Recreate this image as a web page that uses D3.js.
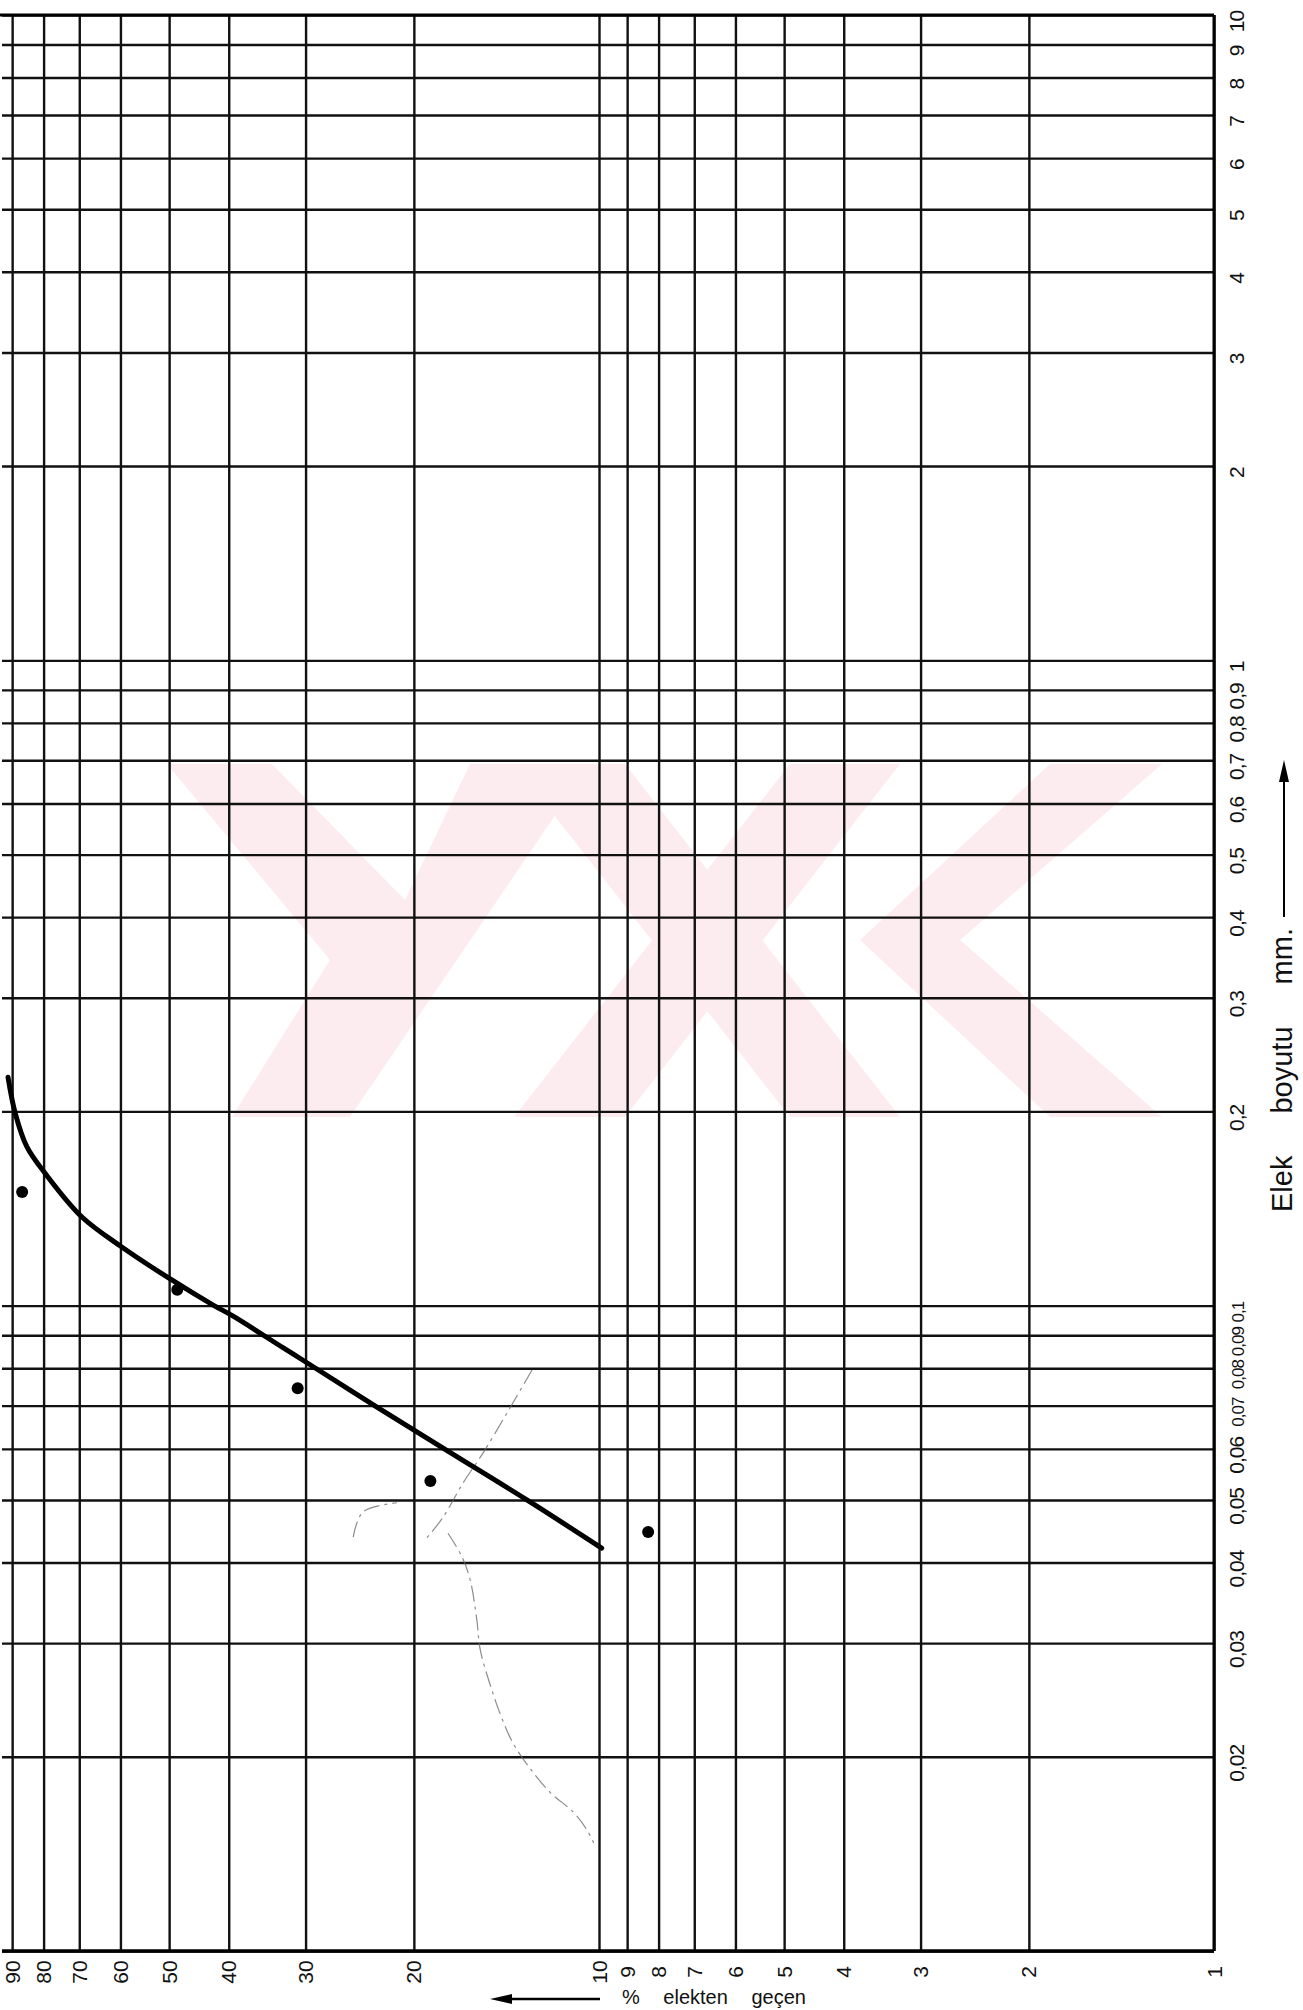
<!DOCTYPE html>
<html>
<head>
<meta charset="utf-8">
<script src="https://cdn.jsdelivr.net/npm/d3@7"></script>
<style>
body{margin:0;background:#fff;}
</style>
</head>
<body>
<script>
var W=1303, H=2010;

// percent passing axis (horizontal, log)
var pctTicks=[1,2,3,4,5,6,7,8,9,10,20,30,40,50,60,70,80,90];
var pctLabels=["1","2","3","4","5","6","7","8","9","10","20","30","40","50","60","70","80","90"];

// sieve size axis (vertical, log), mm
var sizeTicks=[0.01,0.02,0.03,0.04,0.05,0.06,0.07,0.08,0.09,0.1,0.2,0.3,0.4,0.5,0.6,0.7,0.8,0.9,1,2,3,4,5,6,7,8,9,10];
var sizeLabels=["","0,02","0,03","0,04","0,05","0,06","0,07","0,08","0,09","0,1","0,2","0,3","0,4","0,5","0,6","0,7","0,8","0,9","1","2","3","4","5","6","7","8","9","10"];

// drawn grading curve (percent, size)
var curvePct=[91.4,89,85.1,79.6,69.3,59.7,49.5,42.4,39.4,32.6,29.8,23.0,17.5,13.1,9.9];
var curveSize=[0.226,0.199,0.176,0.1605,0.1372,0.1233,0.1096,0.1002,0.0964,0.086,0.0815,0.0697,0.0593,0.050,0.0421];

// measured points
var dotPct=[86.7,48.5,30.9,18.8,8.32];
var dotSize=[0.150,0.1058,0.0745,0.0535,0.0446];

// faint pencil traces
var pen1Pct=[12.85,14.11,15.44,16.64,17.93,19.04];
var pen1Size=[0.0795,0.0682,0.0591,0.0531,0.0470,0.0437];
var pen2Pct=[25.1,24.2,21.3];
var pen2Size=[0.0438,0.0479,0.0495];
var pen3Pct=[17.6,16.7,16.2,15.8,15.6,15.0,14.4,13.8,12.9,12.0,11.0,10.46,10.2];
var pen3Size=[0.0444,0.0408,0.0376,0.0326,0.0293,0.0257,0.0230,0.0210,0.0191,0.0176,0.0164,0.0154,0.0147];

var x=d3.scaleLog().domain([1,100]).range([1214,-16]);
var y=d3.scaleLog().domain([0.01,10]).range([1951,15]);

var svg=d3.select("body").append("svg").attr("width",W).attr("height",H)
	.style("font-family","'Liberation Sans', Arial, sans-serif");

// faint watermark behind the grid
var wm=[
	[[167,764],[272,764],[405,900],[470,764],[590,764],[350,1117],[232,1117],[330,960]],
	[[514,764],[625,764],[900,1117],[790,1117]],
	[[790,764],[900,764],[625,1117],[514,1117]],
	[[1050,764],[1162,764],[960,940],[1162,1117],[1050,1117],[860,940]]
];
svg.append("g").selectAll("polygon").data(wm).enter().append("polygon")
	.attr("points",function(d){return d.map(function(p){return p.join(",");}).join(" ");})
	.attr("fill","#fdecef");

// grid + labels, percent axis
var gx=svg.append("g").attr("transform","translate(0,"+y(0.01)+")")
	.call(d3.axisBottom(x).tickValues(pctTicks).tickSize(-(y(0.01)-y(10))).tickSizeOuter(0)
		.tickFormat(function(d,i){return pctLabels[i];}));
gx.select(".domain").remove();
gx.attr("font-size",21).attr("font-family",null);
gx.selectAll("line").attr("stroke","#111").attr("stroke-width",2.4);
gx.selectAll("text").attr("y",0).attr("dy",null).attr("fill","#111")
	.attr("transform","translate(7,21) rotate(-90)");

// grid + labels, sieve axis
var gy=svg.append("g").attr("transform","translate("+x(1)+",0)")
	.call(d3.axisRight(y).tickValues(sizeTicks).tickSize(-(x(1)-2)).tickSizeOuter(0)
		.tickFormat(function(d,i){return sizeLabels[i];}));
gy.select(".domain").remove();
gy.attr("font-size",21).attr("font-family",null).attr("text-anchor","middle");
gy.selectAll("line").attr("stroke","#111").attr("stroke-width",2.4);
gy.selectAll("text").attr("x",0).attr("dy",null).attr("fill","#111").attr("letter-spacing",-1)
	.attr("font-size",function(d){return (d>=0.07&&d<=0.1)?17:null;})
	.attr("transform","translate(30,6) rotate(-90)");

// border lines a little heavier
svg.append("line").attr("x1",x(1)).attr("x2",x(1)).attr("y1",y(10)).attr("y2",y(0.01)).attr("stroke","#000").attr("stroke-width",3);
svg.append("line").attr("x1",2).attr("x2",x(1)).attr("y1",y(0.01)).attr("y2",y(0.01)).attr("stroke","#000").attr("stroke-width",3.5);
svg.append("line").attr("x1",0).attr("x2",x(1)).attr("y1",y(10)).attr("y2",y(10)).attr("stroke","#000").attr("stroke-width",3);

// pencil traces
var penLine=d3.line().x(function(d){return x(d[0]);}).y(function(d){return y(d[1]);}).curve(d3.curveCatmullRom);
[[pen1Pct,pen1Size],[pen2Pct,pen2Size],[pen3Pct,pen3Size]].forEach(function(s){
	svg.append("path").attr("d",penLine(d3.zip(s[0],s[1])))
		.attr("fill","none").attr("stroke","#666").attr("stroke-width",1.2)
		.attr("stroke-dasharray","16,5,3,5").attr("opacity",0.75);
});

// grading curve
svg.append("path").attr("d",penLine(d3.zip(curvePct,curveSize)))
	.attr("fill","none").attr("stroke","#000").attr("stroke-width",5).attr("stroke-linecap","round");

// points
svg.append("g").selectAll("circle").data(d3.zip(dotPct,dotSize)).enter().append("circle")
	.attr("cx",function(d){return x(d[0]);}).attr("cy",function(d){return y(d[1]);})
	.attr("r",6).attr("fill","#000");

// axis titles
svg.append("text").attr("transform","translate(1292,1212) rotate(-90)")
	.attr("font-size",29).attr("word-spacing",34).attr("fill","#111").text("Elek boyutu mm.");
svg.append("line").attr("x1",1284).attr("x2",1284).attr("y1",917).attr("y2",778).attr("stroke","#000").attr("stroke-width",2);
svg.append("path").attr("d","M1284,760 L1279,782 L1289,782 Z").attr("fill","#000");

svg.append("line").attr("x1",600).attr("x2",508).attr("y1",1999).attr("y2",1999).attr("stroke","#000").attr("stroke-width",2.5);
svg.append("path").attr("d","M490,1999 L512,1994 L512,2004 Z").attr("fill","#000");
svg.append("text").attr("x",622).attr("y",2004).attr("font-size",20).attr("word-spacing",18).attr("fill","#111")
	.text("% elekten geçen");
</script>
</body>
</html>
